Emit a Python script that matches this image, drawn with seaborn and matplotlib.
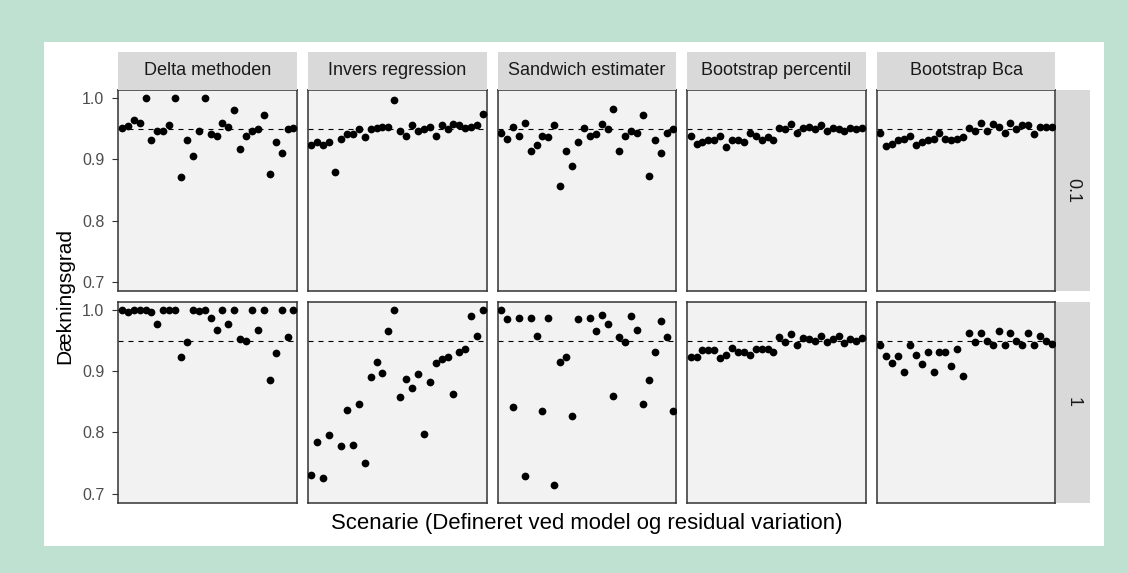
import numpy as np
import pandas as pd
import matplotlib
matplotlib.use("Agg")
import matplotlib.pyplot as plt
import seaborn as sns
from matplotlib.patches import Rectangle

# ---------------- data ----------------
methods = ["Delta methoden", "Invers regression", "Sandwich estimater",
           "Bootstrap percentil", "Bootstrap Bca"]
residuals = ["0.1", "1"]
scenarios = list(range(1, 31))
y_ticks = [0.7, 0.8, 0.9, 1.0]
y_tick_labels = ["0.7", "0.8", "0.9", "1.0"]
reference_level = 0.95
nan = np.nan

delta_01 = [0.952, 0.955, 0.964, 0.959, 1.000, 0.932, 0.946, 0.946, 0.956, 1.000,
            0.871, 0.932, 0.905, 0.946, 1.000, 0.941, 0.938, 0.959, 0.953, 0.980,
            0.917, 0.938, 0.947, 0.949, 0.973, 0.876, 0.929, 0.910, 0.949, 0.951]
invers_01 = [0.924, 0.929, 0.923, 0.929, 0.880, 0.934, 0.941, 0.941, 0.949, 0.936,
             0.949, 0.952, 0.953, 0.953, 0.997, 0.946, 0.938, 0.956, 0.946, 0.949,
             0.953, 0.938, 0.956, 0.949, 0.958, 0.956, 0.951, 0.953, 0.956, 0.975]
sandwich_01 = [0.944, 0.934, 0.953, 0.938, 0.960, 0.914, 0.924, 0.938, 0.936, 0.956,
               0.856, 0.914, 0.890, 0.929, 0.951, 0.938, 0.941, 0.958, 0.949, 0.982,
               0.914, 0.938, 0.946, 0.944, 0.973, 0.873, 0.932, 0.910, 0.944, 0.949]
bpercentil_01 = [0.938, 0.926, 0.929, 0.932, 0.932, 0.938, 0.921, 0.932, 0.932, 0.929,
                 0.944, 0.938, 0.932, 0.936, 0.932, 0.952, 0.949, 0.958, 0.944, 0.951,
                 0.953, 0.949, 0.956, 0.946, 0.952, 0.949, 0.946, 0.951, 0.949, 0.952]
bbca_01 = [0.944, 0.922, 0.926, 0.932, 0.934, 0.938, 0.924, 0.929, 0.932, 0.934,
           0.944, 0.934, 0.932, 0.934, 0.936, 0.952, 0.946, 0.960, 0.946, 0.958,
           0.953, 0.944, 0.960, 0.949, 0.956, 0.956, 0.941, 0.953, 0.953, 0.953]

delta_1 = [1.000, 0.996, 1.000, 1.000, 1.000, 0.996, 0.977, 1.000, 1.000, 1.000,
           0.923, 0.947, 1.000, 0.998, 1.000, 0.987, 0.968, 1.000, 0.977, 1.000,
           0.953, 0.950, 1.000, 0.968, 1.000, 0.885, 0.930, 1.000, 0.955, 1.000]
invers_1 = [0.730, 0.785, 0.725, 0.795, nan, 0.777, 0.837, 0.780, 0.847, 0.750,
            0.890, 0.915, 0.897, 0.965, 1.000, 0.857, 0.887, 0.872, 0.895, 0.797,
            0.882, 0.913, 0.920, 0.923, 0.863, 0.932, 0.937, 0.990, 0.957, 1.000]
sandwich_1 = [1.000, 0.985, 0.842, 0.987, 0.729, 0.987, 0.957, 0.835, 0.987, 0.714,
              0.915, 0.923, 0.827, 0.985, nan, 0.987, 0.965, 0.992, 0.977, 0.860,
              0.955, 0.947, 0.990, 0.968, 0.847, 0.885, 0.932, 0.982, 0.955, 0.835]
bpercentil_1 = [0.923, 0.923, 0.934, 0.935, 0.935, 0.921, 0.927, 0.938, 0.932, 0.931,
                0.926, 0.936, 0.936, 0.936, 0.931, 0.955, 0.947, 0.960, 0.943, 0.954,
                0.953, 0.949, 0.957, 0.947, 0.953, 0.957, 0.946, 0.952, 0.949, 0.954]
bbca_1 = [0.943, 0.925, 0.913, 0.925, 0.899, 0.942, 0.927, 0.912, 0.932, 0.899,
          0.932, 0.932, 0.908, 0.937, 0.892, 0.962, 0.947, 0.962, 0.950, 0.942,
          0.965, 0.942, 0.962, 0.950, 0.942, 0.962, 0.942, 0.957, 0.950, 0.945]

series = {
    ("Delta methoden", "0.1"): delta_01, ("Invers regression", "0.1"): invers_01,
    ("Sandwich estimater", "0.1"): sandwich_01, ("Bootstrap percentil", "0.1"): bpercentil_01,
    ("Bootstrap Bca", "0.1"): bbca_01,
    ("Delta methoden", "1"): delta_1, ("Invers regression", "1"): invers_1,
    ("Sandwich estimater", "1"): sandwich_1, ("Bootstrap percentil", "1"): bpercentil_1,
    ("Bootstrap Bca", "1"): bbca_1,
}
rows = []
for (m, r), vals in series.items():
    for s, v in zip(scenarios, vals):
        rows.append({"method": m, "residual": r, "scenario": s, "coverage": v})
df = pd.DataFrame(rows).dropna()

# ---------------- style ----------------
sns.set_style("white")
plt.rcParams["font.family"] = ["Liberation Sans", "DejaVu Sans"]

W, H = 1127, 573
fig = plt.figure(figsize=(W / 100, H / 100), dpi=100)
fig.patch.set_facecolor("#bfe1d1")
fig.patches.append(Rectangle((44 / W, 1 - 546 / H), (1104 - 44) / W, (546 - 42) / H,
                             transform=fig.transFigure, facecolor="white",
                             edgecolor="none", zorder=-10))

def fx(px):
    return px / W

def fy(py):
    return 1 - py / H

col_left0, col_step, col_w = 118.3, 189.6, 178.7
row_tops = [90.0, 301.7]
row_h = 201.0
strip_top, strip_h = 52.0, 37.5
rstrip_left, rstrip_w = 1056.0, 34.0

ylim = (0.685, 1.0135)
xlim = (0.4, 30.6)

for ri, r in enumerate(residuals):
    for ci, m in enumerate(methods):
        left = col_left0 + ci * col_step
        top = row_tops[ri]
        ax = fig.add_axes([fx(left), fy(top + row_h), fx(col_w), row_h / H])
        ax.set_facecolor("#f2f2f2")
        sub = df[(df.method == m) & (df.residual == r)]
        sns.scatterplot(data=sub, x="scenario", y="coverage", ax=ax, color="black",
                        s=31, linewidth=0, legend=False, zorder=3)
        ax.axhline(reference_level, color="black", lw=0.8, ls=(0, (4.5, 4.5)), zorder=2)
        ax.set_xlim(*xlim)
        ax.set_ylim(*ylim)
        ax.set_xticks([])
        ax.set_xlabel("")
        ax.set_ylabel("")
        for sp in ax.spines.values():
            sp.set_visible(True)
            sp.set_color("#333333")
            sp.set_linewidth(1.1)
        if ci == 0:
            ax.set_yticks(y_ticks)
            ax.set_yticklabels(y_tick_labels)
            ax.tick_params(axis="y", length=4, width=0.8, color="#333333",
                           labelsize=11.5, labelcolor="#4d4d4d", pad=6, left=True)
        else:
            ax.set_yticks([])
        # top strips
        if ri == 0:
            sax = fig.add_axes([fx(left), fy(strip_top + strip_h), fx(col_w), strip_h / H])
            sax.set_facecolor("#d9d9d9")
            sax.set_xticks([]); sax.set_yticks([])
            for sp in sax.spines.values():
                sp.set_visible(False)
            sax.text(0.5, 0.5, m, ha="center", va="center", fontsize=13.0,
                     color="#1a1a1a", transform=sax.transAxes)
    # right strip
    rax = fig.add_axes([fx(rstrip_left), fy(row_tops[ri] + row_h), fx(rstrip_w), row_h / H])
    rax.set_facecolor("#d9d9d9")
    rax.set_xticks([]); rax.set_yticks([])
    for sp in rax.spines.values():
        sp.set_visible(False)
    rax.text(0.5, 0.5, r, ha="center", va="center", rotation=-90, fontsize=13.0,
             color="#1a1a1a", transform=rax.transAxes)

fig.text(fx(65), fy((90 + 502.3) / 2), "Dækningsgrad", rotation=90, ha="center",
         va="center", fontsize=15, color="black")
fig.text(fx((118.3 + 1055) / 2), fy(523), "Scenarie (Defineret ved model og residual variation)",
         ha="center", va="center", fontsize=15.9, color="black")

fig.savefig("out.png", dpi=100, facecolor=fig.get_facecolor())
